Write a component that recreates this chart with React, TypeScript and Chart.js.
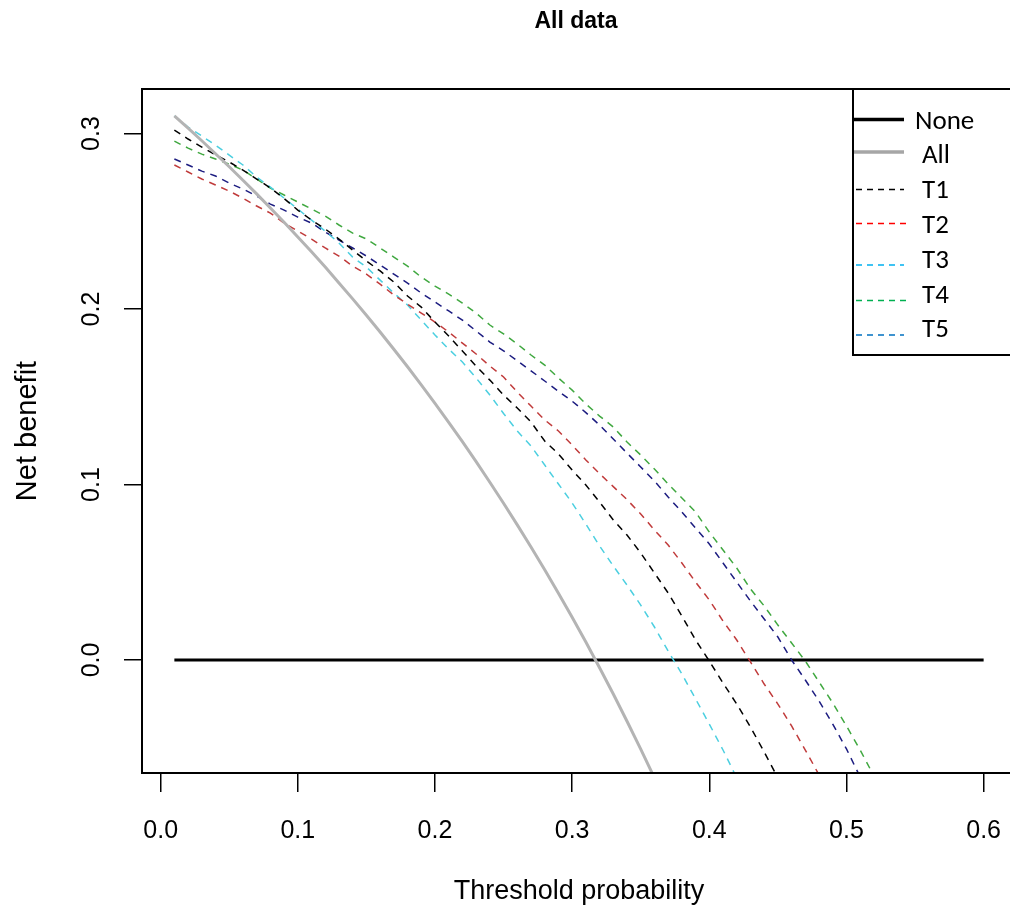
import React, { useEffect, useRef } from "react";
import { Chart, registerables } from "chart.js";

Chart.register(...registerables);

// ---- data ----
const thresholds = [
  0.01, 0.02, 0.03, 0.04, 0.05, 0.06, 0.07, 0.08, 0.09, 0.1,
  0.11, 0.12, 0.13, 0.14, 0.15, 0.16, 0.17, 0.18, 0.19, 0.2,
  0.21, 0.22, 0.23, 0.24, 0.25, 0.26, 0.27, 0.28, 0.29, 0.3,
  0.31, 0.32, 0.33, 0.34, 0.35, 0.36, 0.37, 0.38, 0.39, 0.4,
  0.41, 0.42, 0.43, 0.44, 0.45, 0.46, 0.47, 0.48, 0.49, 0.5,
  0.51, 0.52,
];

const noneThresholds = [0.01, 0.6];
const noneValues = [0, 0];

const allValues = [
  0.3101, 0.3031, 0.2959, 0.2885, 0.2811, 0.2734, 0.2656, 0.2576, 0.2495, 0.2411,
  0.2326, 0.2239, 0.2149, 0.2058, 0.1965, 0.1869, 0.1771, 0.1671, 0.1568, 0.1463,
  0.1354, 0.1244, 0.113, 0.1013, 0.0893, 0.077, 0.0644, 0.0514, 0.038, 0.0243,
  0.0102, -0.0044, -0.0194, -0.0349, -0.0508, -0.0672, -0.0841,
];

const t1Values = [
  0.302, 0.2969, 0.2923, 0.2878, 0.2838, 0.2792, 0.2741, 0.269, 0.263, 0.2564,
  0.2507, 0.2456, 0.2399, 0.2336, 0.2274, 0.2217, 0.2154, 0.2074, 0.2011, 0.1926,
  0.1846, 0.1761, 0.1675, 0.1595, 0.151, 0.1436, 0.1356, 0.1248, 0.1174, 0.1083,
  0.0997, 0.09, 0.0798, 0.0712, 0.061, 0.0496, 0.0382, 0.0251, 0.0114, -0.0006,
  -0.0131, -0.0251, -0.0382, -0.0524, -0.0672,
];

const t2Values = [
  0.2821, 0.2781, 0.2741, 0.2707, 0.2672, 0.2632, 0.2587, 0.2547, 0.249, 0.2444,
  0.2399, 0.2348, 0.2302, 0.2245, 0.2199, 0.2142, 0.208, 0.2028, 0.1977, 0.1926,
  0.1869, 0.1806, 0.1744, 0.1675, 0.1613, 0.1527, 0.1447, 0.1368, 0.1305, 0.1225,
  0.114, 0.1062, 0.0988, 0.0914, 0.0832, 0.0741, 0.0655, 0.0553, 0.0444, 0.0342,
  0.0222, 0.0114, -0.0011, -0.0137, -0.0251, -0.0376, -0.0513, -0.0655,
];

const t3Values = [
  0.31, 0.3037, 0.2986, 0.2934, 0.2877, 0.2821, 0.2752, 0.2695, 0.2632, 0.257,
  0.2507, 0.2444, 0.2376, 0.2296, 0.2239, 0.2165, 0.2091, 0.2023, 0.1937, 0.1852,
  0.1772, 0.1698, 0.1607, 0.151, 0.1405, 0.1305, 0.1219, 0.1111, 0.1003, 0.0895,
  0.0775, 0.065, 0.0536, 0.0427, 0.0313, 0.0188, 0.0051, -0.008, -0.0222, -0.0365,
  -0.0513, -0.0672,
];

const t4Values = [
  0.2957, 0.2917, 0.2883, 0.2855, 0.2826, 0.2792, 0.2741, 0.2689, 0.265, 0.261,
  0.257, 0.253, 0.2479, 0.2433, 0.2399, 0.2348, 0.2296, 0.2245, 0.2182, 0.2131,
  0.2085, 0.2034, 0.1977, 0.1909, 0.1858, 0.1801, 0.1738, 0.1681, 0.1607, 0.1538,
  0.1459, 0.139, 0.1328, 0.1242, 0.1168, 0.1088, 0.1003, 0.0923, 0.0843, 0.0729,
  0.0627, 0.0524, 0.0405, 0.0308, 0.0199, 0.0097, -0.0006, -0.0125, -0.0245, -0.0376,
  -0.0513, -0.0661,
];

const t5Values = [
  0.2855, 0.2821, 0.2786, 0.2758, 0.2718, 0.2684, 0.2644, 0.2598, 0.2564, 0.2524,
  0.249, 0.2439, 0.2393, 0.2348, 0.2302, 0.2251, 0.2199, 0.2148, 0.2091, 0.204,
  0.1989, 0.1937, 0.1875, 0.1812, 0.1762, 0.1705, 0.1648, 0.159, 0.1531, 0.1475,
  0.1410, 0.1339, 0.1259, 0.1179, 0.11, 0.102, 0.0929, 0.0843, 0.0752, 0.0661,
  0.0553, 0.0444, 0.0336, 0.0234, 0.0131, 0.0, -0.0114, -0.0234, -0.0365, -0.0507,
  -0.0667,
];

const xTickValues = [0, 0.1, 0.2, 0.3, 0.4, 0.5, 0.6];
const yTickValues = [0, 0.1, 0.2, 0.3];

const chartTitle = "All data";
const xTitle = "Threshold probability";
const yTitle = "Net benefit";

const legendLabels = ["None", "All", "T1", "T2", "T3", "T4", "T5"];
const legendColors = ["#000000", "#a6a6a6", "#000000", "#ff0000", "#00b0f0", "#00b050", "#0070c0"];
const legendDashed = [false, false, true, true, true, true, true];

// ---- styling ----
const AXIS_FONT = "'Liberation Sans', Arial, sans-serif";
const LEGEND_FONT = "Carlito, Lato, 'Liberation Sans', sans-serif";
const DASH = [7, 6];

const pts = (xs: number[], ys: number[]) => ys.map((y, i) => ({ x: xs[i], y }));

const frameAndTextPlugin = {
  id: "frameAndText",
  afterDraw(chart: any) {
    const { ctx, chartArea } = chart;
    const { left, top, right, bottom } = chartArea;
    ctx.save();
    // plot box
    ctx.strokeStyle = "#000";
    ctx.lineWidth = 2;
    ctx.setLineDash([]);
    ctx.strokeRect(left, top, right - left, bottom - top);

    // main title
    ctx.fillStyle = "#000";
    ctx.font = `bold 23px ${AXIS_FONT}`;
    ctx.textAlign = "center";
    ctx.textBaseline = "middle";
    ctx.fillText(chartTitle, (left + right) / 2 - 3, 22);

    // legend box
    const lx = 853;
    const ly = top;
    const lw = 300;
    const lh = 355 - top;
    ctx.fillStyle = "#fff";
    ctx.fillRect(lx, ly, lw, lh);
    ctx.strokeStyle = "#000";
    ctx.lineWidth = 2;
    ctx.strokeRect(lx, ly, lw, lh);

    const lineYs = [119.5, 152, 189.5, 223.5, 265, 300.5, 335];
    const textYs = [122, 156, 191, 226, 261, 296, 330];
    const textXs = [915, 922, 922, 922, 922, 922, 922];
    const lineEnds = [904, 904, 904, 906, 904, 909, 904];
    legendLabels.forEach((lab, i) => {
      ctx.beginPath();
      ctx.strokeStyle = legendColors[i];
      if (legendDashed[i]) {
        ctx.lineWidth = 1.5;
        ctx.setLineDash([6, 5]);
        ctx.moveTo(856, lineYs[i]);
      } else {
        ctx.lineWidth = 3.5;
        ctx.setLineDash([]);
        ctx.moveTo(854, lineYs[i]);
      }
      ctx.lineTo(lineEnds[i], lineYs[i]);
      ctx.stroke();
      ctx.setLineDash([]);
      ctx.fillStyle = "#000";
      ctx.font = `27px ${LEGEND_FONT}`;
      ctx.textAlign = "left";
      ctx.textBaseline = "middle";
      ctx.fillText(lab, textXs[i], textYs[i]);
    });
    ctx.restore();
  },
};

export default function App() {
  const canvasRef = useRef<HTMLCanvasElement | null>(null);

  useEffect(() => {
    const canvas = canvasRef.current;
    if (!canvas) return;

    const lineDs = (label: string, xs: number[], ys: number[], color: string, width: number, dashed: boolean) => ({
      label,
      data: pts(xs, ys),
      borderColor: color,
      backgroundColor: color,
      borderWidth: width,
      borderDash: dashed ? DASH : [],
      pointRadius: 0,
      pointHoverRadius: 0,
      tension: 0,
      fill: false,
    });

    const chart = new Chart(canvas, {
      type: "line",
      data: {
        datasets: [
          lineDs("All", thresholds, allValues, "#b4b4b4", 3, false),
          lineDs("T1", thresholds, t1Values, "#000000", 1.5, true),
          lineDs("T2", thresholds, t2Values, "#c03b3b", 1.5, true),
          lineDs("T3", thresholds, t3Values, "#4ccfe0", 1.5, true),
          lineDs("T4", thresholds, t4Values, "#40a840", 1.5, true),
          lineDs("T5", thresholds, t5Values, "#1c1c80", 1.5, true),
          lineDs("None", noneThresholds, noneValues, "#000000", 3, false),
        ] as any,
      },
      options: {
        animation: false,
        responsive: false,
        devicePixelRatio: 1,
        events: [],
        layout: { padding: { top: 89, right: 14, left: 0, bottom: 0 } },
        plugins: {
          legend: { display: false },
          title: { display: false },
          tooltip: { enabled: false },
        },
        scales: {
          x: {
            type: "linear",
            position: "bottom",
            min: -0.0136,
            max: 0.6236,
            afterBuildTicks: (scale: any) => {
              scale.ticks = xTickValues.map((v) => ({ value: v }));
            },
            afterFit: (scale: any) => {
              scale.height = 138;
            },
            grid: {
              drawOnChartArea: false,
              drawTicks: true,
              tickLength: 19,
              color: "#000",
              lineWidth: 1.5,
            },
            border: { display: false },
            ticks: {
              autoSkip: false,
              maxRotation: 0,
              minRotation: 0,
              padding: 24,
              color: "#000",
              font: { family: AXIS_FONT, size: 25 },
              callback: (v: any) => Number(v).toFixed(1),
            },
            title: {
              display: true,
              text: xTitle,
              color: "#000",
              font: { family: AXIS_FONT, size: 27 },
              padding: { top: 0, bottom: 3 },
            },
          },
          y: {
            type: "linear",
            position: "left",
            min: -0.0644,
            max: 0.3254,
            afterBuildTicks: (scale: any) => {
              scale.ticks = yTickValues.map((v) => ({ value: v }));
            },
            afterFit: (scale: any) => {
              scale.width = 142;
            },
            grid: {
              drawOnChartArea: false,
              drawTicks: true,
              tickLength: 18,
              color: "#000",
              lineWidth: 1.5,
            },
            border: { display: false },
            ticks: {
              autoSkip: false,
              minRotation: 90,
              maxRotation: 90,
              crossAlign: "center",
              padding: 15,
              color: "#000",
              font: { family: AXIS_FONT, size: 25 },
              callback: (v: any) => Number(v).toFixed(1),
            },
            title: {
              display: true,
              text: yTitle,
              color: "#000",
              font: { family: AXIS_FONT, size: 29 },
              padding: { top: 11, bottom: 0 },
            },
          },
        },
      } as any,
      plugins: [frameAndTextPlugin],
    });

    return () => chart.destroy();
  }, []);

  return (
    <div
      style={{
        position: "fixed",
        left: 0,
        top: 0,
        width: 1010,
        height: 911,
        overflow: "hidden",
        background: "#fff",
      }}
    >
      <canvas ref={canvasRef} width={1030} height={911} style={{ display: "block" }} />
    </div>
  );
}
